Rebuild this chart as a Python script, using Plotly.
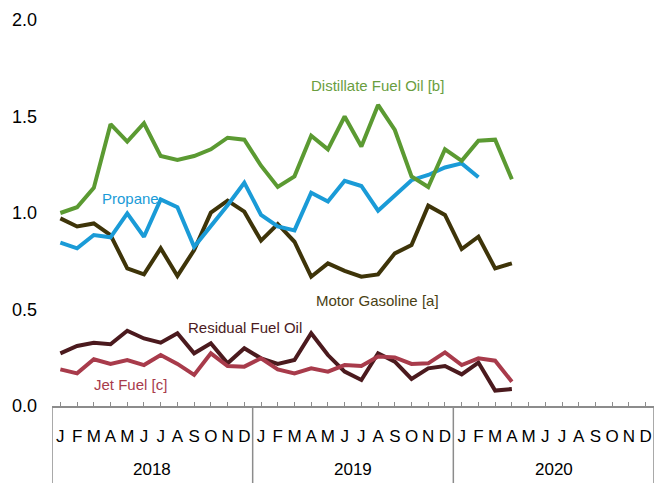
import plotly.graph_objects as go

year_labels = ["2018", "2019", "2020"]
month_labels = ["J", "F", "M", "A", "M", "J", "J", "A", "S", "O", "N", "D"] * 3

distillate = [1.00, 1.03, 1.13, 1.46, 1.37, 1.465, 1.295, 1.275, 1.295, 1.33, 1.39, 1.38,
              1.245, 1.135, 1.19, 1.40, 1.33, 1.50, 1.345, 1.56, 1.43, 1.19, 1.135, 1.33,
              1.27, 1.375, 1.38, 1.175]
propane = [0.846, 0.817, 0.886, 0.874, 0.998, 0.877, 1.07, 1.03, 0.825, 0.93, 1.04, 1.157,
           0.99, 0.93, 0.91, 1.105, 1.06, 1.167, 1.14, 1.012, 1.093, 1.17, 1.197, 1.236,
           1.257, 1.185]
gasoline = [0.972, 0.93, 0.946, 0.886, 0.713, 0.682, 0.817, 0.674, 0.808, 1.002, 1.064, 1.007,
            0.857, 0.943, 0.851, 0.67, 0.739, 0.70, 0.67, 0.682, 0.791, 0.834, 1.038, 0.99,
            0.813, 0.877, 0.713, 0.739]
residual = [0.273, 0.311, 0.328, 0.32, 0.39, 0.35, 0.328, 0.377, 0.273, 0.325, 0.221, 0.299,
            0.247, 0.218, 0.238, 0.377, 0.264, 0.178, 0.135, 0.273, 0.23, 0.14, 0.195, 0.207,
            0.164, 0.225, 0.08, 0.088]
jet = [0.19, 0.169, 0.242, 0.218, 0.238, 0.212, 0.264, 0.218, 0.161, 0.273, 0.207, 0.204,
       0.247, 0.19, 0.169, 0.195, 0.178, 0.212, 0.207, 0.256, 0.252, 0.218, 0.221, 0.278,
       0.212, 0.247, 0.235, 0.126]

y_ticks = [0.0, 0.5, 1.0, 1.5, 2.0]

FONT = "Liberation Sans Narrow, Arial Narrow, Liberation Sans, Arial, sans-serif"

series = [
    ("Residual Fuel Oil", residual, "#4B1A1E"),
    ("Jet Fuel [c]", jet, "#A83B4B"),
    ("Motor Gasoline [a]", gasoline, "#3E3409"),
    ("Propane", propane, "#1A9BD7"),
    ("Distillate Fuel Oil [b]", distillate, "#5B9A32"),
]

n_months = len(month_labels)
month_idx = list(range(n_months))

fig = go.Figure()
for name, vals, color in series:
    fig.add_trace(go.Scatter(
        x=month_idx[:len(vals)], y=vals, mode="lines", name=name,
        line=dict(color=color, width=4),
    ))

L, R, T, B = 52, 654, 20, 406
H_PLOT = B - T

labels = [
    ("Distillate Fuel Oil [b]", 377, 85, "#6A9E3F"),
    ("Propane", 130, 198, "#1A9BD7"),
    ("Motor Gasoline [a]", 377, 301, "#4A3F14"),
    ("Residual Fuel Oil", 245, 327, "#4B1A1E"),
    ("Jet Fuel [c]", 130, 384, "#A83B4B"),
]
for text, px, py, color in labels:
    fig.add_annotation(
        text=text, xref="paper", yref="paper",
        x=(px - L) / (R - L), y=(B - py) / H_PLOT,
        xanchor="center", yanchor="middle",
        showarrow=False, font=dict(family=FONT, size=15, color=color),
    )

# year group labels and dividers
for i, yr in enumerate(year_labels):
    fig.add_annotation(
        text=yr, xref="x", yref="paper", x=i * 12 + 5.5, y=(B - 470) / H_PLOT,
        xanchor="center", yanchor="middle",
        showarrow=False, font=dict(family=FONT, size=17, color="#000000"),
    )
for i in range(len(year_labels) + 1):
    fig.add_shape(
        type="line", xref="x", yref="paper",
        x0=i * 12 - 0.5, x1=i * 12 - 0.5, y0=0, y1=-(483 - B) / H_PLOT,
        line=dict(color="#8c8c8c", width=1.5),
    )

fig.update_layout(
    width=665, height=483,
    margin=dict(l=L, r=665 - R, t=T, b=483 - B),
    plot_bgcolor="white", paper_bgcolor="white",
    showlegend=False,
    font=dict(family=FONT, size=17, color="#000000"),
)
fig.update_xaxes(
    range=[-0.5, n_months - 0.5],
    tickvals=month_idx, ticktext=month_labels,
    showline=True, linecolor="#8c8c8c", linewidth=1.5,
    ticks="inside", ticklen=4, tickcolor="#8c8c8c",
    ticklabelstandoff=14,
    tickfont=dict(family=FONT, size=17, color="#000000"),
    showgrid=False, zeroline=False, automargin=False,
)
fig.update_yaxes(
    range=[0, 2], tickvals=y_ticks, ticktext=[f"{v:.1f}" for v in y_ticks],
    showgrid=False, zeroline=False, showline=False, ticks="",
    ticklabelstandoff=14, automargin=False,
    tickfont=dict(family=FONT, size=18, color="#000000"),
)

fig.write_html("out.html", config={"displayModeBar": False},
               post_script="document.body.style.margin='0';")
